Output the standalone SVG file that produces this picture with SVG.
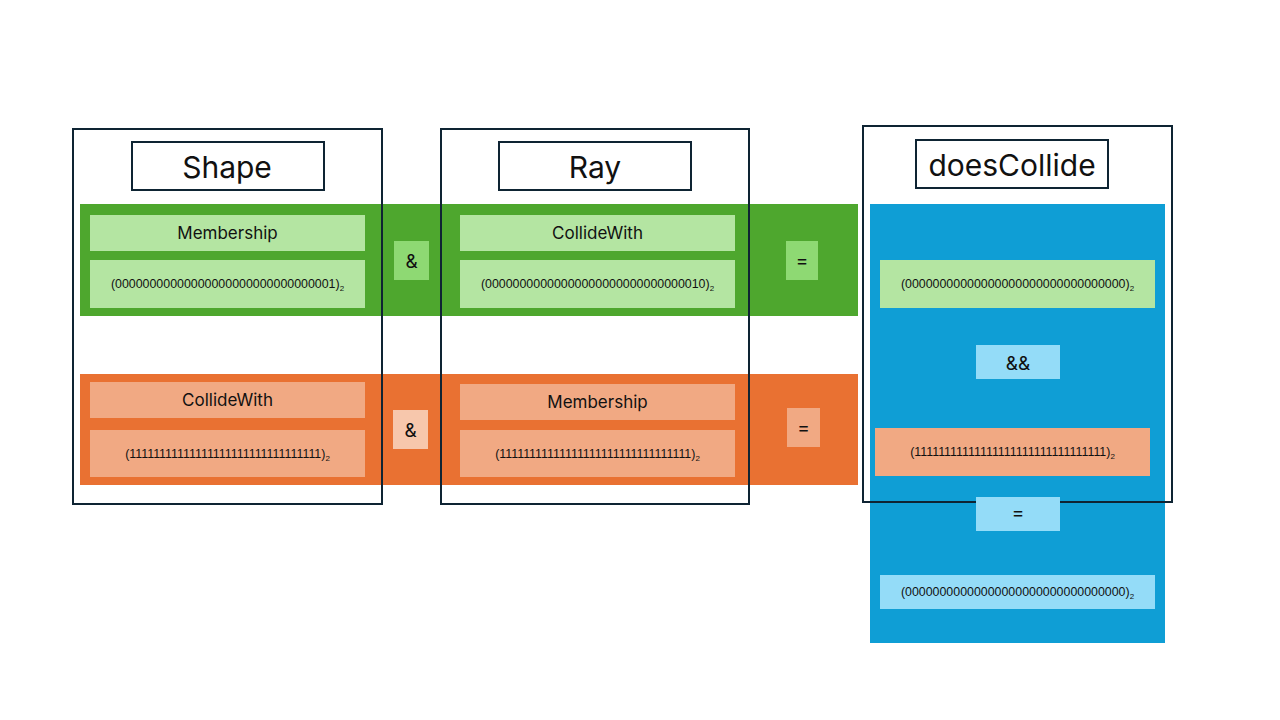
<svg xmlns="http://www.w3.org/2000/svg" width="1280" height="720" viewBox="0 0 1280 720">
<style>
text{font-family:Inter,"Liberation Sans",sans-serif;fill:#111;text-anchor:middle;dominant-baseline:central}
.frame{fill:none;stroke:#0e2433;stroke-width:2}
.title{fill:#fff;stroke:#0e2433;stroke-width:2}
.t{font-size:30px}
.l{font-size:17px}
.v{font-size:12.4px;font-family:"Liberation Sans",Arial,sans-serif}
.op{font-size:19px}
.lg{fill:#b4e5a2}.dg{fill:#8ed973}.lo{fill:#f1a983}.po{fill:#f7c7ac}.lb{fill:#94dcf8}
</style>
<rect width="1280" height="720" fill="#fff"/>
<g id="bands">
<rect x="80" y="204" width="778" height="112" fill="#4ea72e"/>
<rect x="80" y="374" width="778" height="111" fill="#e97132"/>
<rect x="870" y="204" width="295" height="439" fill="#0f9ed5"/>
</g>
<g id="shape-membership">
<rect class="lg" x="90" y="215" width="275" height="36"/><text class="l" x="227.5" y="233">Membership</text>
<rect class="lg" x="90" y="260" width="275" height="48"/><text class="v" x="227.5" y="284">(00000000000000000000000000000001)<tspan font-size="8" dy="4">2</tspan></text>
</g>
<g id="and1"><rect class="dg" x="394" y="241" width="35" height="39"/><text class="op" x="411.5" y="261">&amp;</text></g>
<g id="ray-collidewith">
<rect class="lg" x="460" y="215" width="275" height="36"/><text class="l" x="597.5" y="233">CollideWith</text>
<rect class="lg" x="460" y="260" width="275" height="48"/><text class="v" x="597.5" y="284">(00000000000000000000000000000010)<tspan font-size="8" dy="4">2</tspan></text>
</g>
<g id="eq1"><rect class="dg" x="786" y="241" width="32" height="39"/><text class="op" x="802" y="260">=</text></g>
<g id="shape-collidewith">
<rect class="lo" x="90" y="382" width="275" height="36"/><text class="l" x="227.5" y="400">CollideWith</text>
<rect class="lo" x="90" y="430" width="275" height="47"/><text class="v" x="227.5" y="454">(11111111111111111111111111111111)<tspan font-size="8" dy="4">2</tspan></text>
</g>
<g id="and2"><rect class="po" x="393" y="410" width="35" height="39"/><text class="op" x="410.5" y="430">&amp;</text></g>
<g id="ray-membership">
<rect class="lo" x="460" y="384" width="275" height="36"/><text class="l" x="597.5" y="402">Membership</text>
<rect class="lo" x="460" y="430" width="275" height="47"/><text class="v" x="597.5" y="454">(11111111111111111111111111111111)<tspan font-size="8" dy="4">2</tspan></text>
</g>
<g id="eq2"><rect class="lo" x="787" y="408" width="33" height="39"/><text class="op" x="803.5" y="427">=</text></g>
<g id="result-green"><rect class="lg" x="880" y="260" width="275" height="48"/><text class="v" x="1017.5" y="284">(00000000000000000000000000000000)<tspan font-size="8" dy="4">2</tspan></text></g>
<g id="andand"><rect class="lb" x="976" y="345" width="84" height="34"/><text class="op" x="1018" y="363">&amp;&amp;</text></g>
<g id="result-orange"><rect class="lo" x="875" y="428" width="275" height="48"/><text class="v" x="1012.5" y="452">(11111111111111111111111111111111)<tspan font-size="8" dy="4">2</tspan></text></g>
<g id="shape">
<rect class="frame" x="73" y="129" width="309" height="375"/>
<rect class="title" x="132" y="142" width="192" height="48"/><text class="t" x="227" y="167">Shape</text>
</g>
<g id="ray">
<rect class="frame" x="441" y="129" width="308" height="375"/>
<rect class="title" x="499" y="142" width="192" height="48"/><text class="t" x="595" y="167">Ray</text>
</g>
<g id="doesCollide">
<rect class="frame" x="863" y="126" width="309" height="376"/>
<rect class="title" x="916" y="140" width="192" height="48"/><text class="t" x="1012" y="165">doesCollide</text>
</g>
<g id="eq3"><rect class="lb" x="976" y="497" width="84" height="34"/><text class="op" x="1018" y="512">=</text></g>
<g id="result-final"><rect class="lb" x="880" y="575" width="275" height="34"/><text class="v" x="1017.5" y="592">(00000000000000000000000000000000)<tspan font-size="8" dy="4">2</tspan></text></g>
<g id="connectors"/>
</svg>
